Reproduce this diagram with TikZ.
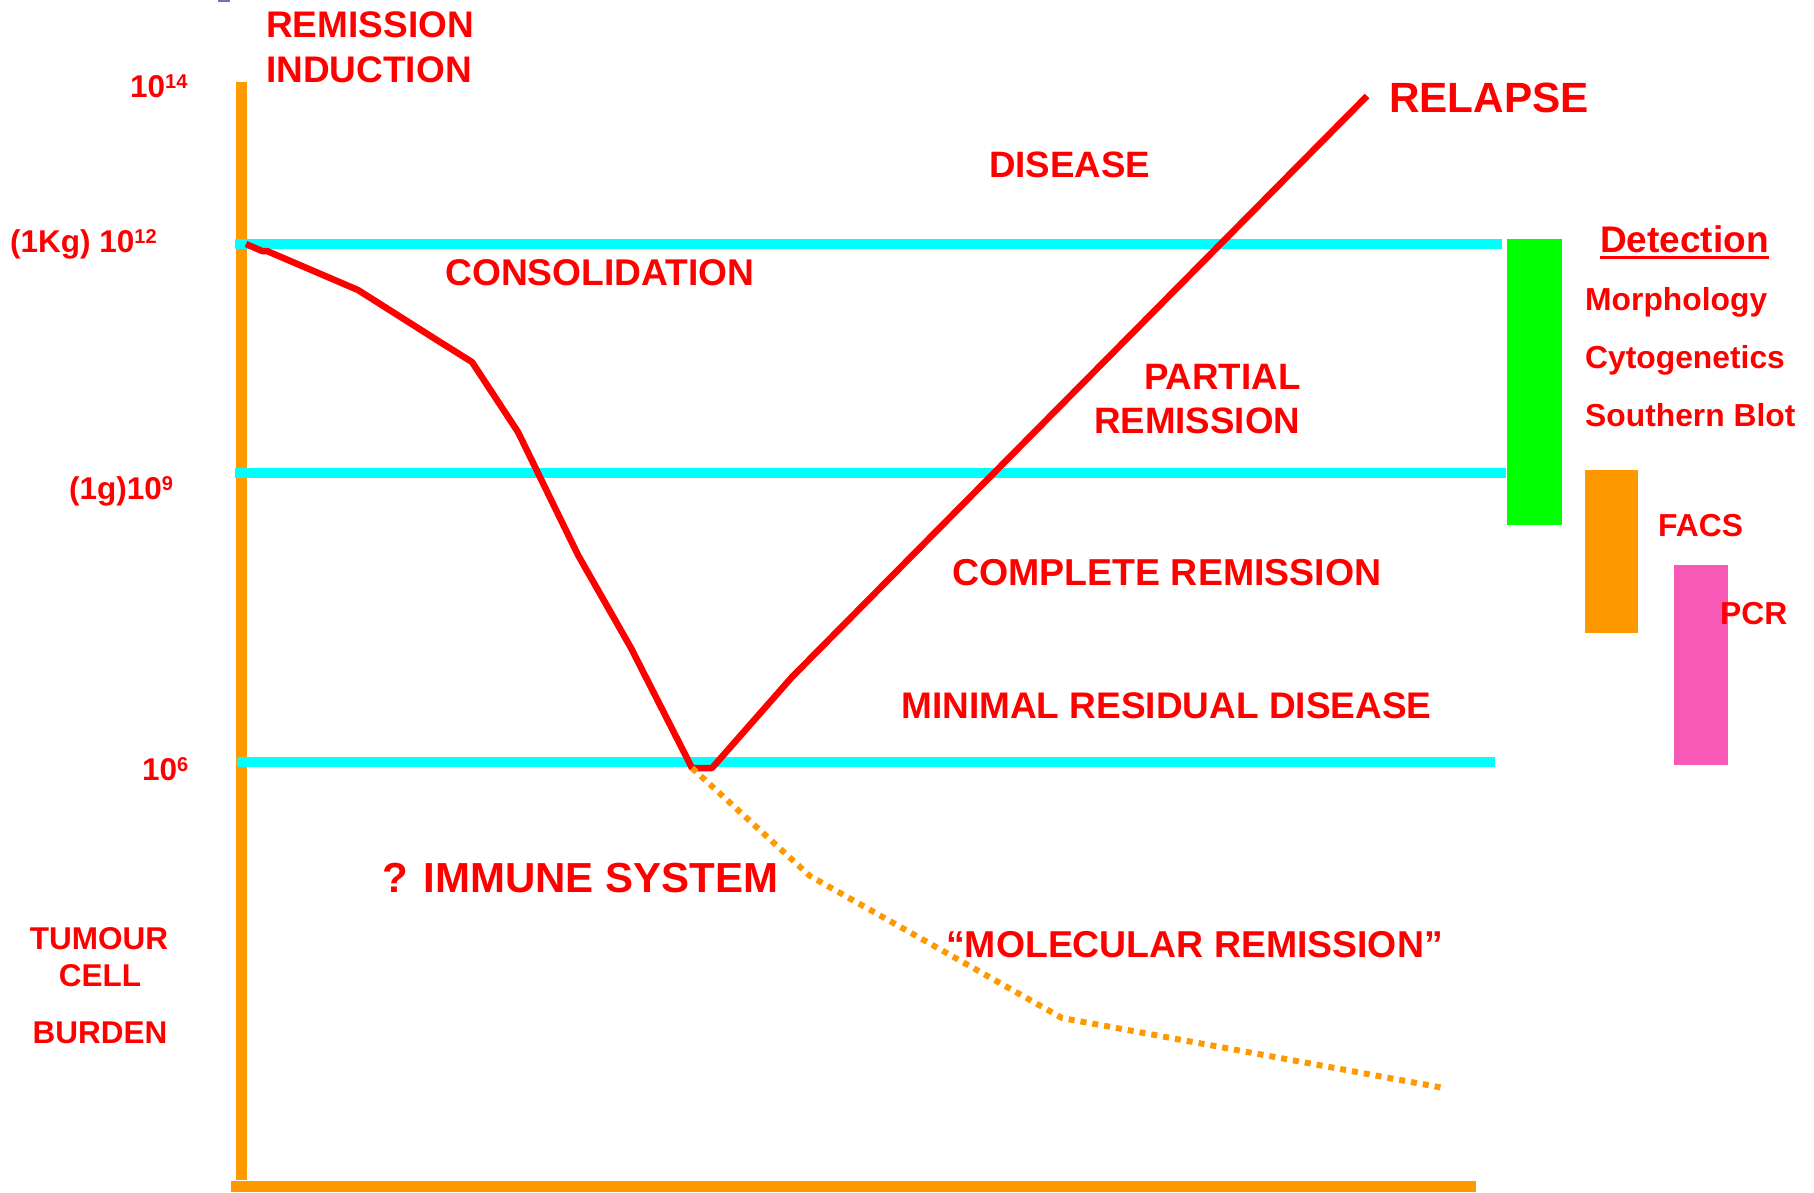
\documentclass[tikz,border=0pt]{standalone}
\usepackage{fontspec}
\setmainfont{Liberation Sans}
\definecolor{axisor}{RGB}{255,153,0}
\definecolor{lvl}{RGB}{0,255,255}
\definecolor{grn}{RGB}{0,255,0}
\definecolor{pnk}{RGB}{247,90,182}
\definecolor{purp}{RGB}{120,110,190}
\begin{document}
\begin{tikzpicture}[x=1pt,y=-1pt,
  lbl/.style={text=red,inner sep=0pt,anchor=base west,font=\bfseries\fontsize{37}{44}\selectfont},
  small/.style={text=red,inner sep=0pt,anchor=base west,font=\bfseries\fontsize{31.5}{38}\selectfont},
  detitem/.style={text=red,inner sep=0pt,anchor=base west,font=\bfseries\fontsize{31.8}{38}\selectfont},
  axisline/.style={draw=axisor,line width=11pt},
  level/.style={draw=lvl,line width=10pt},
  curve/.style={draw=red,line width=6.5pt,line join=round},
  molec/.style={draw=axisor,line width=6pt,dash pattern=on 6pt off 6pt}
]
\useasboundingbox (0,0) rectangle (1814,1192);
\fill[purp] (218,0) rectangle (230,2);
% axes
\coordinate (ytop) at (241.5,82);
\coordinate (ybot) at (241.5,1180);
\coordinate (xl) at (231,1186);
\coordinate (xr) at (1476,1186);
\draw[axisline] (ytop) -- (ybot);
\draw[axisline] (xl) -- (xr);
% level lines
\coordinate (l1a) at (235,243.5); \coordinate (l1b) at (1502,243.5);
\coordinate (l2a) at (235,473);   \coordinate (l2b) at (1506,473);
\coordinate (l3a) at (237,762);   \coordinate (l3b) at (1495,762);
\draw[level] (l1a) -- (l1b);
\draw[level] (l2a) -- (l2b);
\draw[level] (l3a) -- (l3b);
% tumour curve
\coordinate (c0) at (246,244);
\coordinate (cmin1) at (692,768);
\coordinate (cmin2) at (712,768);
\coordinate (ctop) at (1367,96);
\draw[curve] (c0) -- (262,251) -- (267,251) -- (358,290) -- (440,342) -- (472,362)
  -- (518,432) -- (578,555) -- (631,648) -- (cmin1) -- (cmin2) -- (792,677) -- (ctop);
% molecular remission dotted
\coordinate (mend) at (1444,1088);
\draw[molec] (cmin1) -- (810,876) -- (1062,1018) -- (mend);
% detection bars
\fill[grn] (1507,239) rectangle (1562,525);
\fill[axisor] (1585,470) rectangle (1638,633);
\fill[pnk] (1674,565) rectangle (1728,765);
% labels
\node[lbl] (ri1) at (266,37) {REMISSION};
\node[lbl] (ri2) at (266,82) {INDUCTION};
\node[lbl,font=\bfseries\fontsize{42.3}{48}\selectfont] (relapse) at (1389,112) {RELAPSE};
\node[lbl,font=\bfseries\fontsize{36.7}{44}\selectfont] (disease) at (989,177) {DISEASE};
\node[lbl,font=\bfseries\fontsize{37.2}{44}\selectfont] (consol) at (445,285) {CONSOLIDATION};
\node[lbl,font=\bfseries\fontsize{36.7}{44}\selectfont] (pr1) at (1144,389) {PARTIAL};
\node[lbl,font=\bfseries\fontsize{36.7}{44}\selectfont] (pr2) at (1094,433) {REMISSION};
\node[lbl,font=\bfseries\fontsize{37.5}{44}\selectfont] (cr) at (952,585) {COMPLETE REMISSION};
\node[lbl] (mrd) at (901,718) {MINIMAL RESIDUAL DISEASE};
\node[lbl,font=\bfseries\fontsize{42}{50}\selectfont] (immune) at (382,892) {? IMMUNE SYSTEM};
\node[lbl,font=\bfseries\fontsize{37.4}{44}\selectfont] (molrem) at (946,957) {“MOLECULAR REMISSION”};
% y-axis labels
\node[small] (e14) at (130,97) {10\raisebox{9pt}{\fontsize{20}{20}\selectfont 14}};
\node[small] (e12) at (10,252) {(1Kg) 10\raisebox{9pt}{\fontsize{20}{20}\selectfont 12}};
\node[small] (e9) at (69,499) {(1g)10\raisebox{9pt}{\fontsize{20}{20}\selectfont 9}};
\node[small] (e6) at (142,780) {10\raisebox{9pt}{\fontsize{20}{20}\selectfont 6}};
\node[small,anchor=base] (tum1) at (99,949) {TUMOUR};
\node[small,anchor=base] (tum2) at (100,986) {CELL};
\node[small,anchor=base] (tum3) at (100,1043) {BURDEN};
% detection
\node[lbl] (det) at (1600,252) {Detection};
\draw[red,line width=3.5pt] ([yshift=-5.5pt]det.base west) -- ([yshift=-5.5pt]det.base east);
\node[detitem] (morph) at (1585,310) {Morphology};
\node[detitem] (cyto) at (1585,368) {Cytogenetics};
\node[detitem] (south) at (1585,426) {Southern Blot};
\node[detitem] (facs) at (1658,536) {FACS};
\node[detitem] (pcr) at (1720,624) {PCR};
\end{tikzpicture}
\end{document}
